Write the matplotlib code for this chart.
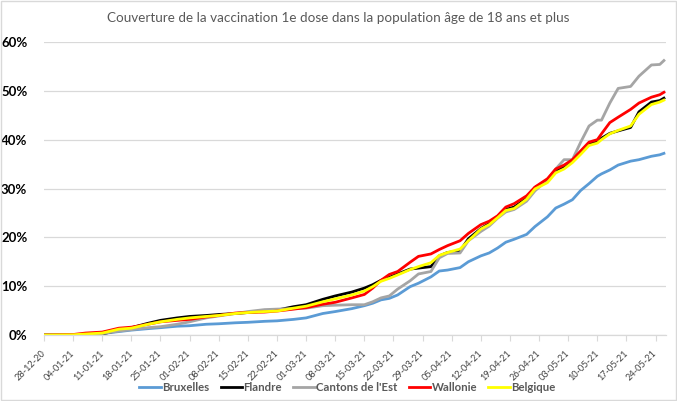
import matplotlib
matplotlib.use("Agg")
import matplotlib.pyplot as plt
import matplotlib.dates as mdates
from matplotlib.patches import Rectangle
import pandas as pd

start_date = "2020-12-28"
days = [0, 7, 10, 14, 18, 21, 25, 28, 32, 35, 39, 42, 46, 49, 53, 56, 60, 63, 67, 70,
        74, 77, 79, 81, 83, 85, 88, 90, 93, 95, 97, 100, 102, 105, 107, 109, 111, 113,
        116, 118, 121, 123, 125, 127, 129, 131, 133, 134, 136, 138, 141, 143, 146, 148, 149]

bruxelles = [0, 0, 0.05, 0.3, 0.7, 1.0, 1.3, 1.5, 1.8, 1.9, 2.2, 2.3, 2.5, 2.6, 2.8, 2.9, 3.2, 3.5, 4.4, 4.8,
             5.4, 6.0, 6.5, 7.2, 7.5, 8.2, 9.9, 10.6, 11.9, 13.1, 13.3, 13.8, 15.0, 16.2, 16.8, 17.8, 19.0, 19.6,
             20.6, 22.2, 24.2, 26.0, 26.8, 27.7, 29.6, 31.0, 32.5, 33.0, 33.8, 34.8, 35.6, 35.9, 36.6, 36.9, 37.2]
flandre = [0, 0, 0.05, 0.2, 1.0, 1.5, 2.4, 3.0, 3.5, 3.8, 4.0, 4.2, 4.4, 4.6, 4.9, 5.1, 5.8, 6.2, 7.3, 8.0,
           8.8, 9.6, 10.3, 11.2, 11.8, 12.5, 13.5, 13.7, 14.0, 16.2, 16.9, 17.2, 19.7, 21.8, 22.8, 24.3, 25.7, 26.2,
           28.0, 30.2, 31.6, 33.6, 34.5, 35.7, 37.5, 39.2, 39.6, 40.3, 41.3, 41.8, 42.5, 45.7, 47.7, 48.0, 48.5]
cantons = [0, 0, 0.05, 0.3, 0.8, 1.1, 1.5, 1.7, 2.2, 2.7, 3.5, 3.9, 4.4, 4.8, 5.2, 5.3, 5.4, 5.5, 6.0, 6.1,
           6.2, 6.2, 6.8, 7.6, 8.0, 9.4, 11.1, 12.5, 13.0, 15.8, 16.7, 16.8, 19.3, 21.2, 22.3, 23.9, 25.2, 25.7,
           27.4, 29.5, 31.8, 34.0, 35.9, 35.9, 39.5, 42.8, 44.0, 44.0, 47.5, 50.5, 50.9, 53.0, 55.3, 55.4, 56.2]
wallonie = [0, 0.1, 0.4, 0.6, 1.4, 1.6, 2.2, 2.7, 3.0, 3.2, 3.7, 4.0, 4.5, 4.6, 4.7, 4.9, 5.3, 5.6, 6.3, 6.7,
            7.6, 8.3, 9.6, 11.2, 12.4, 13.0, 14.9, 16.1, 16.6, 17.5, 18.3, 19.3, 20.8, 22.6, 23.3, 24.4, 26.2, 26.9,
            28.5, 30.3, 32.0, 34.0, 34.8, 35.9, 37.7, 39.5, 40.0, 41.2, 43.5, 44.6, 46.2, 47.5, 48.7, 49.2, 49.7]
belgique = [0, 0.05, 0.2, 0.4, 1.2, 1.4, 2.2, 2.7, 3.2, 3.5, 3.8, 4.0, 4.4, 4.6, 4.8, 4.9, 5.5, 5.9, 6.8, 7.4,
            8.2, 9.0, 9.9, 11.0, 11.6, 12.3, 13.4, 14.0, 14.8, 16.3, 16.9, 17.6, 19.3, 21.7, 22.6, 24.0, 25.5, 25.9,
            27.8, 29.9, 31.2, 33.2, 34.0, 35.3, 37.0, 38.8, 39.3, 40.0, 41.2, 41.9, 42.8, 45.2, 47.2, 47.7, 48.1]

series_names = ["Bruxelles", "Flandre", "Cantons de l'Est", "Wallonie", "Belgique"]
series_values = [bruxelles, flandre, cantons, wallonie, belgique]
series_colors = ["#5B9BD5", "#000000", "#A5A5A5", "#FF0000", "#FFFF00"]
y_ticks = [0, 10, 20, 30, 40, 50, 60]
title = "Couverture de la vaccination 1e dose dans la population âge de 18 ans et plus"

t0 = pd.Timestamp(start_date)
dates = [t0 + pd.Timedelta(days=d) for d in days]
tick_dates = [t0 + pd.Timedelta(days=7 * k) for k in range(22)]

plt.rcParams['font.family'] = ['Lato', 'DejaVu Sans']

fig = plt.figure(figsize=(6.77, 4.01), dpi=100)
fig.patches.append(Rectangle((0.0015, 0.0025), 0.997, 0.995, transform=fig.transFigure,
                             fill=False, edgecolor="#D9D9D9", linewidth=1))
ax = fig.add_axes([44 / 677, 66 / 401, 622 / 677, 293 / 401])

for name, vals, col in zip(series_names, series_values, series_colors):
    ax.plot(dates, vals, color=col, linewidth=2.0, label=name, solid_joinstyle="round")

ax.set_ylim(0, 60)
ax.set_xlim(t0, t0 + pd.Timedelta(days=149.5))
ax.set_yticks(y_ticks)
ax.set_yticklabels([f"{v}%" for v in y_ticks], fontsize=9.5, fontweight="bold", color="#000000")
ax.yaxis.grid(True, color="#D9D9D9", linewidth=0.9)
ax.set_axisbelow(True)
ax.tick_params(axis="y", length=0, pad=12)

ax.set_xticks(tick_dates)
ax.xaxis.set_major_formatter(mdates.DateFormatter("%d-%m-%y"))
ax.tick_params(axis="x", length=4, width=0.8, color="#D9D9D9", labelsize=6.6, labelcolor="#404040", pad=8)
for lab in ax.get_xticklabels():
    lab.set_rotation(45)
    lab.set_ha("right")
    lab.set_va("center")
    lab.set_rotation_mode("anchor")

for s in ["top", "right", "left"]:
    ax.spines[s].set_visible(False)
ax.spines["bottom"].set_color("#D9D9D9")
ax.spines["bottom"].set_linewidth(0.9)

fig.text(0.5, 0.955, title, ha="center", va="center", fontsize=9.7, color="#595959")

fig.legend(loc="center", bbox_to_anchor=(0.513, 0.033), ncol=5, frameon=False,
           handlelength=1.9, columnspacing=1.0, handletextpad=0.1,
           labelcolor="#595959", prop={"weight": "bold", "size": 8.2})

fig.savefig("out.png", dpi=100)
